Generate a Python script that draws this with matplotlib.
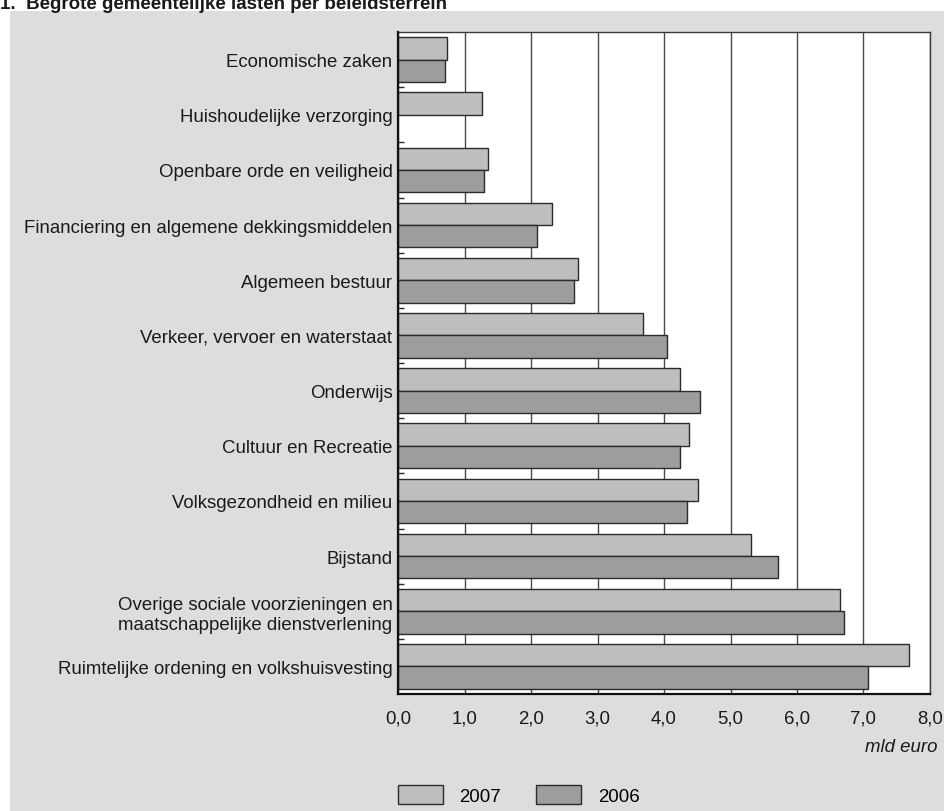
import numpy as np
import matplotlib
matplotlib.use('Agg')
import matplotlib.pyplot as plt
from matplotlib.patches import Rectangle, Patch

plt.rcParams['font.family'] = ['Liberation Sans', 'DejaVu Sans']

# data (mld euro), top to bottom
categories = [
    'Economische zaken',
    'Huishoudelijke verzorging',
    'Openbare orde en veiligheid',
    'Financiering en algemene dekkingsmiddelen',
    'Algemeen bestuur',
    'Verkeer, vervoer en waterstaat',
    'Onderwijs',
    'Cultuur en Recreatie',
    'Volksgezondheid en milieu',
    'Bijstand',
    'Overige sociale voorzieningen en\nmaatschappelijke dienstverlening',
    'Ruimtelijke ordening en volkshuisvesting',
]
lasten_2007 = [0.74, 1.27, 1.35, 2.31, 2.70, 3.69, 4.24, 4.37, 4.51, 5.31, 6.64, 7.68]
lasten_2006 = [0.70, np.nan, 1.30, 2.09, 2.64, 4.04, 4.54, 4.24, 4.34, 5.72, 6.70, 7.07]
xticks = [0, 1, 2, 3, 4, 5, 6, 7, 8]
xticklabels = ['0,0', '1,0', '2,0', '3,0', '4,0', '5,0', '6,0', '7,0', '8,0']

c2007 = '#bdbec0'
c2006 = '#9c9d9f'
edge = '#2b2b2b'
panel = '#dcdddf'
fs = 13.4

fig = plt.figure(figsize=(9.45, 8.12), dpi=100)
fig.patch.set_facecolor('white')

# grey panel behind the chart
fig.patches.append(Rectangle((10 / 945, 0), 1, 1 - 12 / 812, transform=fig.transFigure,
                             facecolor=panel, edgecolor='none', zorder=-10))

fig.text(0.0, 1 - 9 / 812, '1.  Begrote gemeentelijke lasten per beleidsterrein',
         fontsize=13.5, fontweight='bold', color='#1a1a1a', va='baseline', ha='left')

ax = fig.add_axes([398 / 945, 1 - 695 / 812, (930 - 398) / 945, (695 - 33) / 812])
ax.set_facecolor('white')

y = np.arange(len(categories))
h = 0.405
ax.barh(y - h / 2, lasten_2007, height=h, color=c2007, edgecolor=edge, linewidth=1.0,
        zorder=3, label='2007')
ax.barh(y + h / 2, lasten_2006, height=h, color=c2006, edgecolor=edge, linewidth=1.0,
        zorder=3, label='2006')

ax.set_ylim(len(categories) - 0.5, -0.5)
ax.set_xlim(0, 8)
ax.set_yticks(y)
ax.set_yticklabels(categories, fontsize=fs, color='#1a1a1a')
ax.set_yticks(y[:-1] + 0.5, minor=True)
ax.set_xticks(xticks)
ax.set_xticklabels(xticklabels, fontsize=fs, color='#1a1a1a')
ax.tick_params(axis='y', which='major', length=0, pad=4)
ax.tick_params(axis='y', which='minor', direction='in', length=4, width=1, color=edge)
ax.tick_params(axis='x', length=0, pad=11)

ax.grid(axis='x', color='#4a4a4a', linewidth=1.0, zorder=1)
for side in ['left', 'bottom']:
    ax.spines[side].set_linewidth(1.6)
    ax.spines[side].set_color('#111111')
    ax.spines[side].set_zorder(5)
for side in ['top', 'right']:
    ax.spines[side].set_linewidth(1.0)
    ax.spines[side].set_color('#3a3a3a')

fig.text(938 / 945, 1 - 748 / 812, 'mld euro', fontsize=fs, style='italic',
         color='#1a1a1a', ha='right', va='center')

handles = [Patch(facecolor=c2007, edgecolor=edge, linewidth=1.0),
           Patch(facecolor=c2006, edgecolor=edge, linewidth=1.0)]
fig.legend(handles, ['2007', '2006'], loc='center left',
           bbox_to_anchor=(398 / 945, 1 - 796 / 812), ncol=2, frameon=False,
           fontsize=fs, handlelength=2.4, handleheight=1.2, handletextpad=0.9,
           columnspacing=1.9, borderpad=0, borderaxespad=0)

plt.savefig('out.png', dpi=100)
plt.close()
